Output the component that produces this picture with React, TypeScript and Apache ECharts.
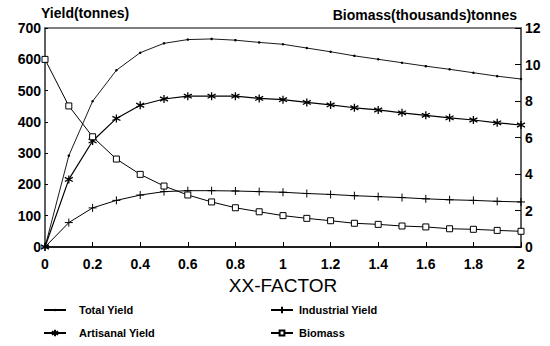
import React, { useEffect, useRef } from "react";
import * as echarts from "echarts";

const xFactor = [0, 0.1, 0.2, 0.3, 0.4, 0.5, 0.6, 0.7, 0.8, 0.9, 1.0, 1.1, 1.2, 1.3, 1.4, 1.5, 1.6, 1.7, 1.8, 1.9, 2.0];
const totalYield = [0, 292, 466, 565, 621, 651, 663, 665, 661, 654, 648, 636, 624, 611, 600, 589, 578, 568, 557, 546, 537];
const artisanalYield = [0, 216, 339, 411, 453, 473, 482, 482, 482, 475, 471, 462, 454, 445, 438, 429, 421, 413, 406, 397, 390];
const industrialYield = [0, 78, 125, 149, 166, 177, 180, 180, 179, 177, 175, 171, 168, 164, 161, 158, 154, 151, 149, 146, 144];
const biomass = [10.28, 7.73, 6.04, 4.82, 3.98, 3.34, 2.85, 2.47, 2.15, 1.93, 1.72, 1.57, 1.44, 1.3, 1.24, 1.15, 1.1, 1.0, 0.97, 0.91, 0.86];

const pairs = (ys: number[]) => xFactor.map((x, i) => [x, ys[i]]);

const FONT = "Liberation Sans";
const ASTERISK = "path://M0,-5L0,5M-4.4,-2.6L4.4,2.6M-4.4,2.6L4.4,-2.6";
const PLUS = "path://M0,-5L0,5M-5,0L5,0";

export default function App() {
  const ref = useRef<HTMLDivElement>(null);
  useEffect(() => {
    if (!ref.current) return;
    const chart = echarts.init(ref.current, null, { renderer: "svg" });
    const axisLabel = { color: "#000", fontFamily: FONT, fontWeight: "bold" as const, fontSize: 14 };
    const lineStyle = { color: "#000", width: 1 };
    const legendText = (pad: number) => ({ color: "#000", fontFamily: FONT, fontWeight: "bold" as const, fontSize: 11, padding: [0, 0, 0, pad] });
    const mkLegend = (name: string, left: number, cy: number, h: number, pad: number) => ({
      left,
      top: cy - 4.5,
      itemWidth: 22,
      itemHeight: h,
      padding: 0,
      data: [name],
      textStyle: legendText(pad),
    });
    chart.setOption({
      animation: false,
      backgroundColor: "#fff",
      grid: { left: 45, right: 29, top: 28, bottom: 99, show: true, borderColor: "#555", borderWidth: 1.5 },
      xAxis: {
        type: "value",
        min: 0,
        max: 2,
        interval: 0.2,
        name: "XX-FACTOR",
        nameLocation: "middle",
        nameGap: 29,
        nameTextStyle: { color: "#000", fontFamily: FONT, fontSize: 19 },
        axisLine: { lineStyle: { color: "#000", width: 1.5 } },
        axisTick: { inside: true, length: 5, lineStyle: { color: "#000" } },
        axisLabel: { ...axisLabel, margin: 10 },
        splitLine: { show: false },
      },
      yAxis: [
        {
          type: "value",
          min: 0,
          max: 700,
          interval: 100,
          name: "Yield(tonnes)",
          nameLocation: "end",
          nameGap: 8,
          nameTextStyle: { color: "#000", fontFamily: FONT, fontWeight: "bold", fontSize: 14, align: "left", padding: [0, 0, 0, -4] },
          axisLine: { show: true, lineStyle: { color: "#555", width: 1.5 } },
          axisTick: { show: true, inside: true, length: 3, lineStyle: { color: "#000" } },
          axisLabel: { ...axisLabel, margin: 4 },
          splitLine: { show: false },
        },
        {
          type: "value",
          min: 0,
          max: 12,
          interval: 2,
          name: "Biomass(thousands)tonnes",
          nameLocation: "end",
          nameGap: 6,
          nameTextStyle: { color: "#000", fontFamily: FONT, fontWeight: "bold", fontSize: 14, align: "right", padding: [0, 4, 0, 0] },
          axisLine: { show: true, lineStyle: { color: "#555", width: 1.5 } },
          axisTick: { show: true, inside: true, length: 6, lineStyle: { color: "#000" } },
          axisLabel: { ...axisLabel, margin: 4 },
          splitLine: { show: false },
        },
      ],
      legend: [
        mkLegend("Total Yield", 43, 309, 3, 8),
        mkLegend("Artisanal Yield", 43, 332, 8, 8),
        mkLegend("Industrial Yield", 270, 309, 8, 1),
        mkLegend("Biomass", 270, 332, 6, 1),
      ],
      series: [
        {
          name: "Total Yield",
          type: "line",
          yAxisIndex: 0,
          data: pairs(totalYield),
          symbol: "circle",
          symbolSize: 2.5,
          showAllSymbol: true,
          itemStyle: { color: "#000" },
          lineStyle: { ...lineStyle, width: 0.9 },
        },
        {
          name: "Artisanal Yield",
          type: "line",
          yAxisIndex: 0,
          data: pairs(artisanalYield),
          symbol: ASTERISK,
          symbolSize: 8,
          showAllSymbol: true,
          itemStyle: { color: "#000", borderColor: "#000", borderWidth: 1.3 },
          lineStyle: { ...lineStyle, width: 1.2 },
        },
        {
          name: "Industrial Yield",
          type: "line",
          yAxisIndex: 0,
          data: pairs(industrialYield),
          symbol: PLUS,
          symbolSize: 8,
          showAllSymbol: true,
          itemStyle: { color: "#000", borderColor: "#000", borderWidth: 1 },
          lineStyle: { ...lineStyle },
        },
        {
          name: "Biomass",
          type: "line",
          yAxisIndex: 1,
          data: pairs(biomass),
          symbol: "rect",
          symbolSize: 6,
          showAllSymbol: true,
          itemStyle: { color: "#fff", borderColor: "#000", borderWidth: 1 },
          lineStyle: { ...lineStyle },
        },
      ],
    });
    return () => chart.dispose();
  }, []);
  return <div ref={ref} style={{ width: 550, height: 346, position: "absolute", left: 0, top: 0 }} />;
}
